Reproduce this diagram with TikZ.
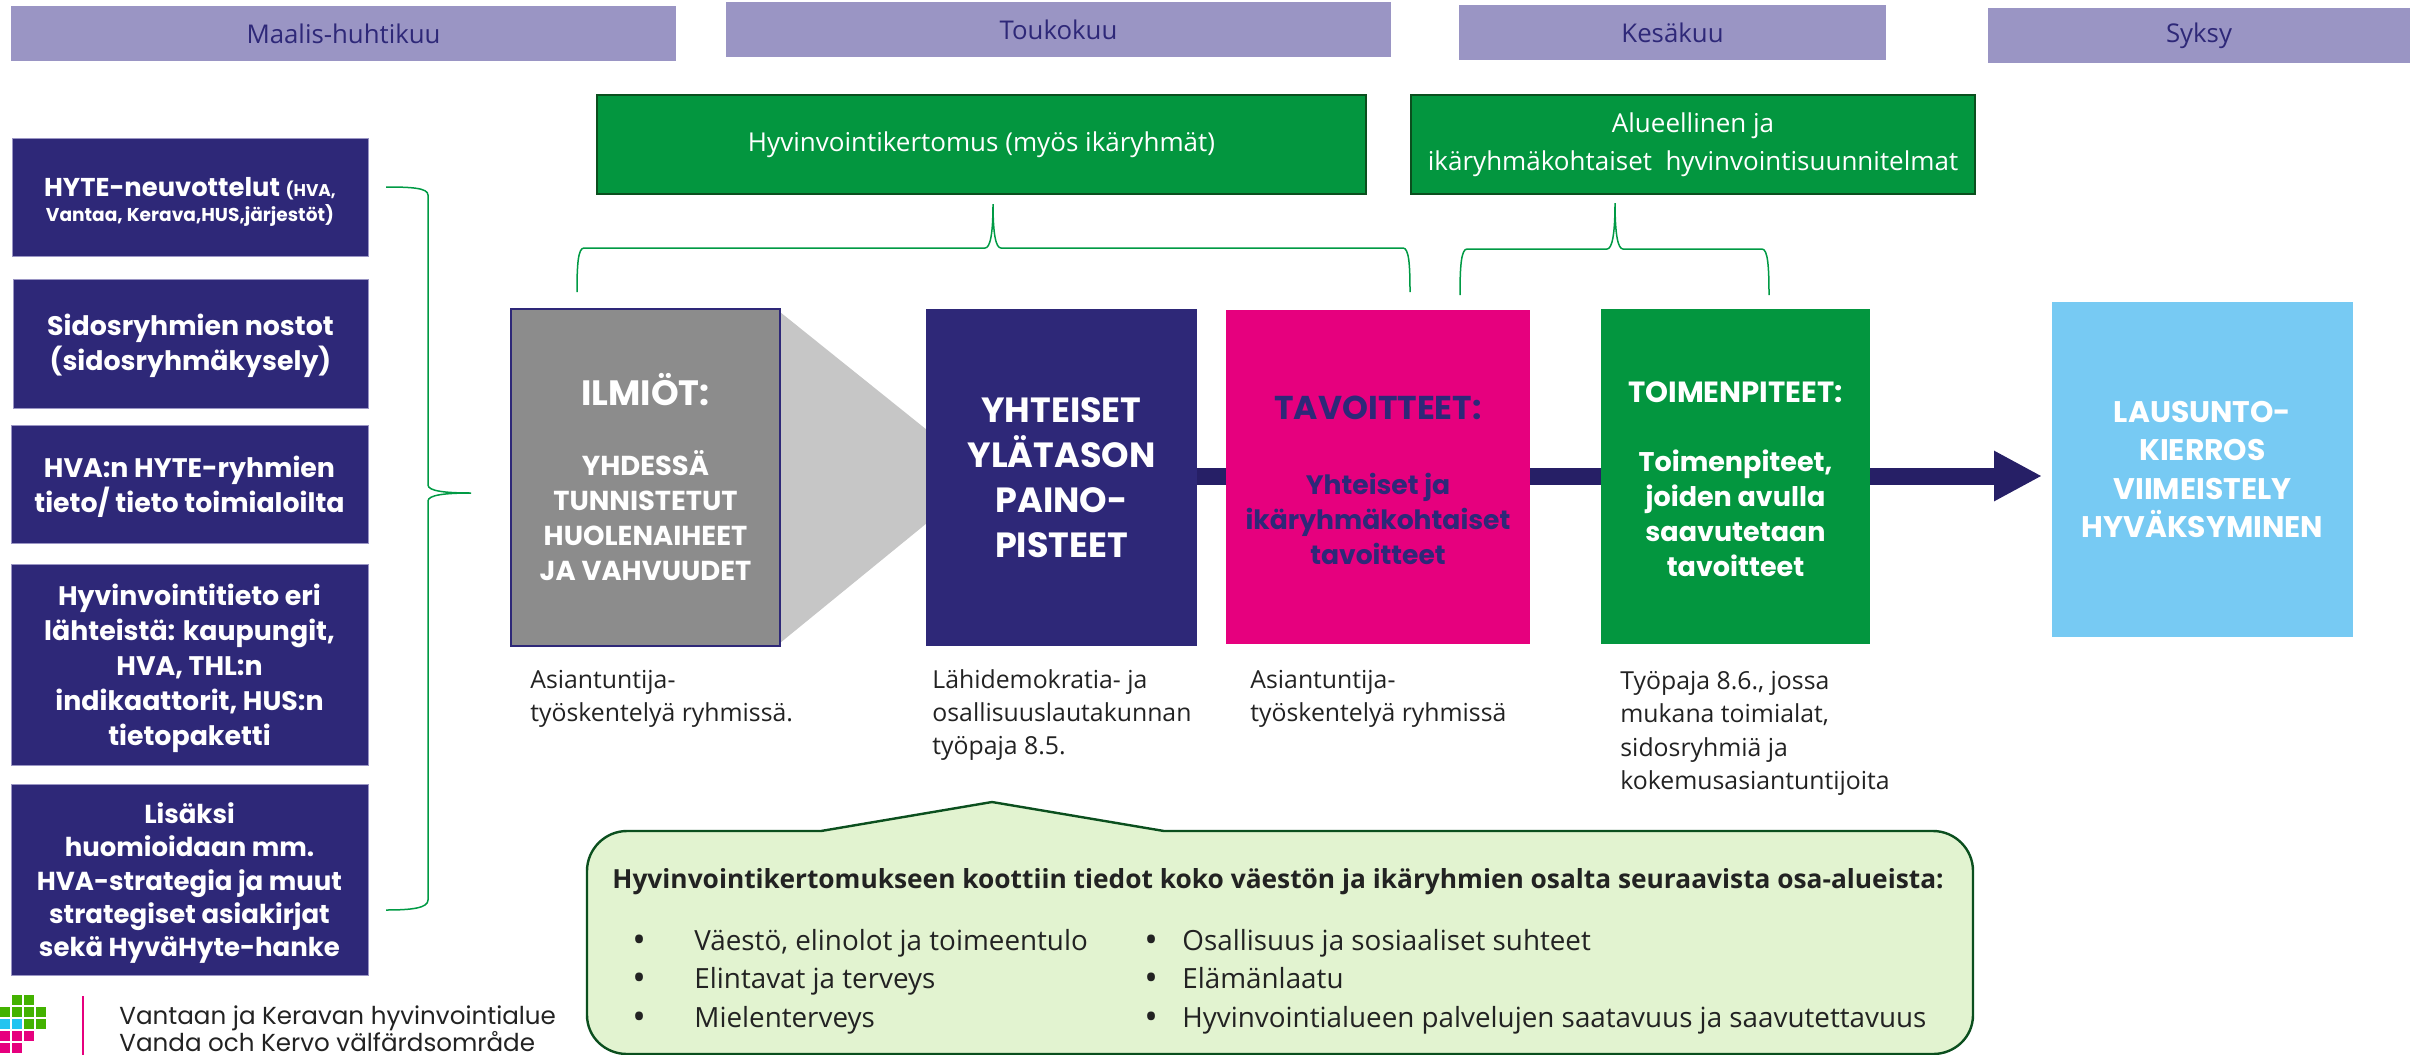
\documentclass[tikz,border=0pt]{standalone}
\usepackage{fontspec}
\setmainfont{Open Sans}
\newfontfamily\pop{Poppins}
\usetikzlibrary{arrows.meta}
\definecolor{navy}{HTML}{2E2878}
\definecolor{arrowc}{HTML}{261F66}
\definecolor{band}{HTML}{9A95C4}
\definecolor{grn}{HTML}{03963F}
\definecolor{brc}{HTML}{009A44}
\definecolor{pnk}{HTML}{E6007E}
\definecolor{sky}{HTML}{77CAF3}
\definecolor{gry}{HTML}{8C8C8C}
\definecolor{lgry}{HTML}{C6C6C6}
\definecolor{mint}{HTML}{E2F3D0}
\definecolor{dgrn}{HTML}{0B4F1E}
\definecolor{logog}{HTML}{43B200}
\definecolor{logob}{HTML}{22C4F0}
\definecolor{txt}{HTML}{222222}
\newcommand{\fs}[2]{\fontsize{#1}{#2}\selectfont}
\newcommand{\rr}[1]{\rule{0pt}{#1pt}}
\tikzset{
  bx/.style 2 args={minimum width=#1*0.5pt,minimum height=#2*0.5pt,inner sep=0pt,outer sep=0pt,align=center},
  hdr/.style={fill=band,text=navy,font=\fs{12.9}{15}},
  grnbox/.style={fill=grn,draw=dgrn,line width=0.6pt,text=white,font=\fs{13}{19}},
  leftbox/.style={fill=navy,draw=band,line width=0.4pt,text=white,font=\pop\bfseries\fs{13.4}{17.5}},
  mainbox/.style={text=white,font=\pop\bfseries\fs{13.7}{17.5}},
  capt/.style={anchor=north west,align=left,inner sep=0pt,text=txt,font=\fs{12.4}{16.6}},
  brace/.style={draw=brc,line width=0.75pt},
  li/.style={anchor=base west,inner sep=0pt,text=txt,font=\fs{13.9}{16}},
  bul/.style={anchor=base west,inner sep=0pt,text=txt,font=\fs{18}{20}},
  sq/.style={minimum size=5pt,inner sep=0pt,outer sep=0pt,fill=#1},
  logotext/.style={anchor=base west,inner sep=0pt,text=txt,font=\pop\fs{12.3}{14}}
}
\begin{document}
\begin{tikzpicture}[x=0.5pt,y=-0.5pt]
\useasboundingbox (0,0) rectangle (2410,1055);
% month bands
\node[hdr,bx={665}{55}] (h1) at (343.5,33.5) {Maalis-huhtikuu};
\node[hdr,bx={665}{55}] (h2) at (1058.5,29.5) {Toukokuu};
\node[hdr,bx={427}{55}] (h3) at (1672.5,32.5) {Kesäkuu};
\node[hdr,bx={422}{55}] (h4) at (2199,35.5) {Syksy};
% green boxes
\node[grnbox,bx={769}{99}] (g1) at (981.5,144.5) {Hyvinvointikertomus (myös ikäryhmät)};
\node[grnbox,bx={564}{99}] (g2) at (1693,144.5) {Alueellinen ja\\ikäryhmäkohtaiset\ \ hyvinvointisuunnitelmat};
% left boxes
\node[leftbox,bx={356}{118}] (l1) at (190,197) {\rr{14.5}\fs{12.9}{17}HYTE-neuvottelut {\fs{8.5}{12}(HVA,}\\[-5pt]{\fs{9.3}{13}Vantaa,\ Kerava,HUS,järjestöt)}};
\node[leftbox,bx={355}{129}] (l2) at (190.5,343.5) {\rr{13}Sidosryhmien nostot\\(sidosryhmäkysely)};
\node[leftbox,bx={357}{118}] (l3) at (189.5,484) {\rr{13.5}HVA:n HYTE-ryhmien\\tieto/ tieto toimialoilta};
\node[leftbox,bx={357}{201}] (l4) at (189.5,664.5) {\rr{14.5}Hyvinvointitieto eri\\lähteistä: kaupungit,\\HVA, THL:n\\indikaattorit, HUS:n\\tietopaketti};
\node[leftbox,bx={357}{191},font=\pop\bfseries\fs{13}{16.7}] (l5) at (189.5,879.5) {\rr{14}Lisäksi\\huomioidaan mm.\\HVA-strategia ja muut\\strategiset asiakirjat\\sekä HyväHyte-hanke};
% trapezoid
\fill[lgry] (780,312) -- (927,430) -- (927,523) -- (780,643) -- cycle;
% helper nodes that the arrow runs between
\node[bx={271}{1}] (yhtb) at (1061.5,476) {};
\node[bx={301}{335}] (lausb) at (2202.5,469.5) {};
\draw[arrowc,line width=8.5pt,-{Triangle[length=24pt,width=23.5pt]},shorten >=5pt] (yhtb.center) -- (yhtb.center -| lausb.west);
\node[mainbox,fill=gry,draw=navy,line width=1.2pt,bx={269}{337}] (ilm) at (645.5,477.5) {\fs{17.6}{21}ILMIÖT:\\[17.5pt]YHDESSÄ\\TUNNISTETUT\\HUOLENAIHEET\\JA VAHVUUDET};
\node[mainbox,fill=navy,bx={271}{337},font=\pop\bfseries\fs{17.5}{22.5}] (yht) at (1061.5,477.5) {YHTEISET\\YLÄTASON\\PAINO-\\PISTEET};
\node[mainbox,fill=pnk,text=navy,bx={304}{334},font=\pop\bfseries\fs{13.3}{17.5}] (tav) at (1378,477) {\rr{15}\fs{16.5}{21}TAVOITTEET:\\[19.8pt]Yhteiset ja\\ikäryhmäkohtaiset\\tavoitteet};
\node[mainbox,fill=grn,bx={269}{335},font=\pop\bfseries\fs{13.5}{17.5}] (toi) at (1735.5,476.5) {\rr{13}\fs{14.6}{20}TOIMENPITEET:\\[17pt]Toimenpiteet,\\joiden avulla\\saavutetaan\\tavoitteet};
\node[mainbox,fill=sky,bx={301}{335},font=\pop\bfseries\fs{14.9}{19.3}] (lau) at (2202.5,469.5) {LAUSUNTO-\\KIERROS\\VIIMEISTELY\\HYVÄKSYMINEN};
% braces
\coordinate (b1a) at (386,187); \coordinate (b1t) at (471,493); \coordinate (b1b) at (386,910);
\draw[brace] (b1a) .. controls (412,187) and (428,188) .. (428,195) -- (428,485) .. controls (428,491) and (445,493) .. (b1t) .. controls (445,493) and (428,495) .. (428,501) -- (428,900) .. controls (428,908) and (412,910) .. (b1b);
\coordinate (b2a) at (577,292); \coordinate (b2t) at (993,204); \coordinate (b2b) at (1410,292);
\draw[brace] (b2a) .. controls (577,265) and (578,248) .. (584,248) -- (985,248) .. controls (990,248) and (993,235) .. (b2t) .. controls (993,235) and (996,248) .. (1001,248) -- (1403,248) .. controls (1409,248) and (1410,265) .. (b2b);
\coordinate (b3a) at (1460,295); \coordinate (b3t) at (1615,203); \coordinate (b3b) at (1769,295);
\draw[brace] (b3a) .. controls (1460,268) and (1461,249) .. (1467,249) -- (1607,249) .. controls (1612,249) and (1615,235) .. (b3t) .. controls (1615,235) and (1618,249) .. (1623,249) -- (1762,249) .. controls (1768,249) and (1769,268) .. (b3b);
% captions
\node[capt] (c1) at (530,670) {Asiantuntija-\\työskentelyä ryhmissä.};
\node[capt] (c2) at (932,669) {Lähidemokratia- ja\\osallisuuslautakunnan\\työpaja 8.5.};
\node[capt] (c3) at (1250,670) {Asiantuntija-\\työskentelyä ryhmissä};
\node[capt] (c4) at (1620,671) {Työpaja 8.6., jossa\\mukana toimialat,\\sidosryhmiä ja\\kokemusasiantuntijoita};
% callout
\filldraw[fill=mint,draw=dgrn,line width=1.2pt] (821,831) -- (992,802) -- (1164,831) -- (1933,831) .. controls (1955,831) and (1973,849) .. (1973,871) -- (1973,1015) .. controls (1973,1037) and (1955,1054) .. (1933,1054) -- (627,1054) .. controls (605,1054) and (587,1037) .. (587,1015) -- (587,871) .. controls (587,849) and (605,831) .. (627,831) -- cycle;
\node[li,font=\bfseries\fs{13.15}{16}] (kt) at (612,888) {Hyvinvointikertomukseen koottiin tiedot koko väestön ja ikäryhmien osalta seuraavista osa-alueista:};
\node[bul] (a0) at (632,952) {•};
\node[li] (a1) at (694,950) {Väestö, elinolot ja toimeentulo};
\node[bul] (b0) at (632,990) {•};
\node[li] (b1) at (694,988) {Elintavat ja terveys};
\node[bul] (d0) at (632,1029) {•};
\node[li] (d1) at (694,1027) {Mielenterveys};
\node[bul] (e0) at (1144,952) {•};
\node[li] (e1) at (1182,950) {Osallisuus ja sosiaaliset suhteet};
\node[bul] (f0) at (1144,990) {•};
\node[li] (f1) at (1182,988) {Elämänlaatu};
\node[bul] (g0) at (1144,1029) {•};
\node[li] (g1t) at (1182,1027) {Hyvinvointialueen palvelujen saatavuus ja saavutettavuus};
% logo
\foreach \x/\y/\c in {17/1000/logog,29/1000/logog,5/1012/logog,17/1012/logog,29/1012/logog,41/1012/logog,5/1024/logob,17/1024/logob,29/1024/logog,41/1024/logog,5/1036/pnk,17/1036/pnk,29/1036/pnk,5/1048/pnk,17/1048/pnk}
  \node[sq=\c] at (\x,\y) {};
\draw[pnk,line width=1pt] (83,996) -- (83,1055);
\node[logotext] (v1) at (119,1024) {Vantaan ja Keravan hyvinvointialue};
\node[logotext] (v2) at (119,1051) {Vanda och Kervo välfärdsområde};
\end{tikzpicture}
\end{document}
